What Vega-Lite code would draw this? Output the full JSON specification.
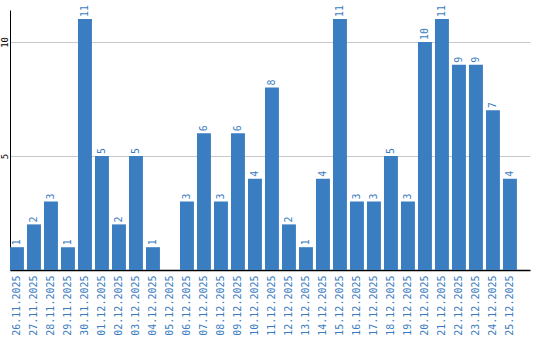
{
  "$schema": "https://vega.github.io/schema/vega-lite/v6.json",
  "autosize": "none",
  "width": 520,
  "height": 260,
  "padding": {"left": 10, "top": 10, "right": 10, "bottom": 70},
  "config": {"view": {"stroke": null}, "font": "DejaVu Sans Mono"},
  "data": {"values": [
    {"d": "26.11.2025", "v": 1}, {"d": "27.11.2025", "v": 2}, {"d": "28.11.2025", "v": 3},
    {"d": "29.11.2025", "v": 1}, {"d": "30.11.2025", "v": 11}, {"d": "01.12.2025", "v": 5},
    {"d": "02.12.2025", "v": 2}, {"d": "03.12.2025", "v": 5}, {"d": "04.12.2025", "v": 1},
    {"d": "05.12.2025", "v": 0}, {"d": "06.12.2025", "v": 3}, {"d": "07.12.2025", "v": 6},
    {"d": "08.12.2025", "v": 3}, {"d": "09.12.2025", "v": 6}, {"d": "10.12.2025", "v": 4},
    {"d": "11.12.2025", "v": 8}, {"d": "12.12.2025", "v": 2}, {"d": "13.12.2025", "v": 1},
    {"d": "14.12.2025", "v": 4}, {"d": "15.12.2025", "v": 11}, {"d": "16.12.2025", "v": 3},
    {"d": "17.12.2025", "v": 3}, {"d": "18.12.2025", "v": 5}, {"d": "19.12.2025", "v": 3},
    {"d": "20.12.2025", "v": 10}, {"d": "21.12.2025", "v": 11}, {"d": "22.12.2025", "v": 9},
    {"d": "23.12.2025", "v": 9}, {"d": "24.12.2025", "v": 7}, {"d": "25.12.2025", "v": 4}
  ]},
  "encoding": {
    "x": {"field": "d", "type": "ordinal", "sort": null,
      "scale": {"paddingInner": 0.18, "paddingOuter": 0.385, "align": 0},
      "axis": {"title": null, "labelAngle": -90, "labelColor": "#3a7cc0", "labelFont": "DejaVu Sans Mono",
        "labelFontSize": 10, "ticks": false, "labelPadding": 5, "domainColor": "#000000", "domainWidth": 1.5}},
    "y": {"field": "v", "type": "quantitative",
      "scale": {"domain": [0, 11.4], "nice": false, "zero": true},
      "axis": {"title": null, "values": [5, 10], "labelAngle": -90, "labelAlign": "center", "labelBaseline": "bottom",
        "labelFont": "DejaVu Sans Mono", "labelFontSize": 9, "labelFontWeight": "normal", "labelColor": "#000000", "ticks": false,
        "labelPadding": 1, "domainColor": "#000000", "domainWidth": 1, "grid": true, "gridColor": "#c8c8c8"}}
  },
  "layer": [
    {"mark": {"type": "bar", "color": "#3b7dc1"}},
    {"transform": [{"filter": "datum.v > 0"}],
     "mark": {"type": "text", "angle": 270, "align": "left", "baseline": "middle", "dx": 2,
       "color": "#3a7cc0", "font": "DejaVu Sans Mono", "fontSize": 10},
     "encoding": {"text": {"field": "v", "type": "quantitative"}}}
  ]
}
